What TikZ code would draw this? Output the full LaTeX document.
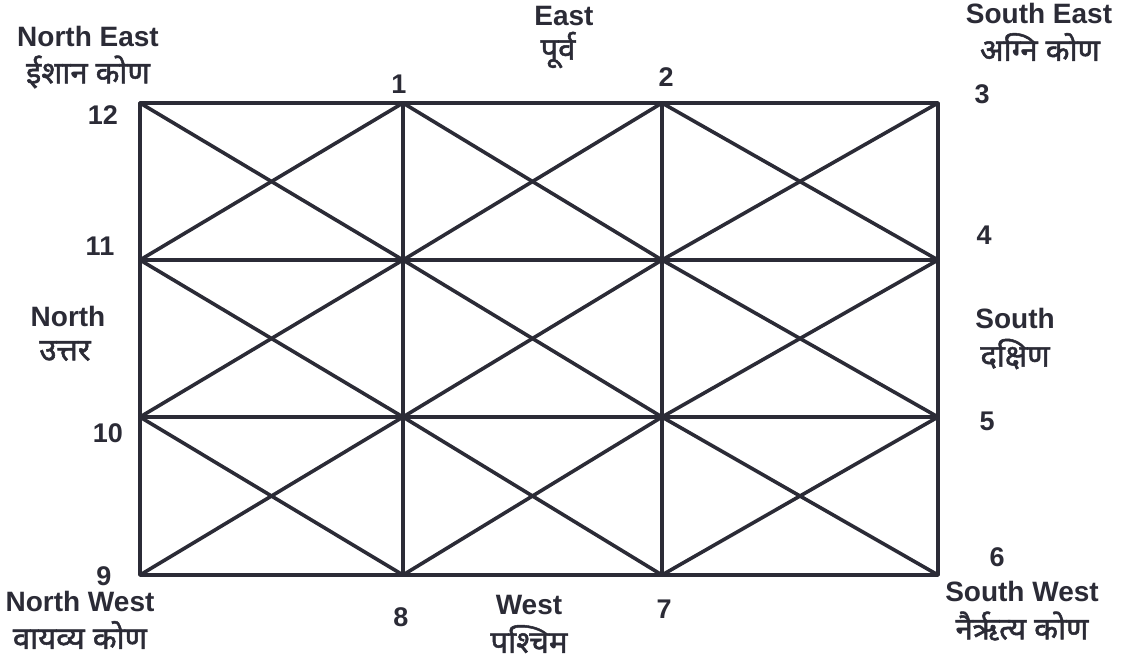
\documentclass[tikz,border=0pt]{standalone}
\usepackage{fontspec}
\setmainfont{Liberation Sans}
\newfontfamily\hindi[Script=Devanagari,FakeBold=1.6]{Noto Sans}
\usepackage{xcolor}
\definecolor{inkgray}{HTML}{2B2B36}

\begin{document}
\begin{tikzpicture}[x=1pt,y=-1pt,
    grid line/.style={inkgray,line width=3.6pt,line cap=round,line join=round},
    numlabel/.style={inkgray,font=\fontsize{27}{29}\selectfont\bfseries},
    enlabel/.style={inkgray,font=\fontsize{28}{30}\selectfont\bfseries},
    hilabel/.style={inkgray,font=\fontsize{31}{33}\selectfont\hindi}]
        \useasboundingbox (0,0) rectangle (1123,663);
        % grid points
        \coordinate (a0) at (140,103);
        \coordinate (a1) at (403,103);
        \coordinate (a2) at (662,103);
        \coordinate (a3) at (938,103);
        \coordinate (b0) at (140,260);
        \coordinate (b1) at (403,260);
        \coordinate (b2) at (662,260);
        \coordinate (b3) at (938,260);
        \coordinate (c0) at (140,417);
        \coordinate (c1) at (403,417);
        \coordinate (c2) at (662,417);
        \coordinate (c3) at (938,417);
        \coordinate (d0) at (140,575);
        \coordinate (d1) at (403,575);
        \coordinate (d2) at (662,575);
        \coordinate (d3) at (938,575);
        % outline and inner lines
        \draw[grid line] (a0) -- (a3) -- (d3) -- (d0) -- cycle;
        \draw[grid line] (b0) -- (b3);
        \draw[grid line] (c0) -- (c3);
        \draw[grid line] (a1) -- (d1);
        \draw[grid line] (a2) -- (d2);
        % diagonals
        \draw[grid line] (a0) -- (b1) -- (a2) -- (b3);
        \draw[grid line] (b0) -- (a1) -- (b2) -- (a3);
        \draw[grid line] (b0) -- (c1) -- (b2) -- (c3);
        \draw[grid line] (c0) -- (b1) -- (c2) -- (b3);
        \draw[grid line] (c0) -- (d1) -- (c2) -- (d3);
        \draw[grid line] (d0) -- (c1) -- (d2) -- (c3);
        % numbers
        \node[numlabel] (n1) at (399,84) {1};
        \node[numlabel] (n2) at (666,77) {2};
        \node[numlabel] (n3) at (982,94) {3};
        \node[numlabel] (n4) at (984,235) {4};
        \node[numlabel] (n5) at (987,421) {5};
        \node[numlabel] (n6) at (997,557) {6};
        \node[numlabel] (n7) at (664,609) {7};
        \node[numlabel] (n8) at (401,617) {8};
        \node[numlabel] (n9) at (104,576) {9};
        \node[numlabel] (n10) at (108,433) {10};
        \node[numlabel] (n11) at (100,246) {11};
        \node[numlabel] (n12) at (103,115) {12};
        % directions
        \node[enlabel] (ne) at (88,36) {North East};
        \node[hilabel] (nehi) at (88,72) {ईशान कोण};
        \node[enlabel] (east) at (564,16) {East};
        \node[hilabel] (easthi) at (558,50) {पूर्व};
        \node[enlabel] (se) at (1039,13) {South East};
        \node[hilabel] (sehi) at (1040,47) {अग्नि कोण};
        \node[enlabel] (north) at (68,316) {North};
        \node[hilabel] (northhi) at (65,351) {उत्तर};
        \node[enlabel] (south) at (1015,318) {South};
        \node[hilabel] (southhi) at (1015,354) {दक्षिण};
        \node[enlabel] (nw) at (80,601) {North West};
        \node[hilabel] (nwhi) at (80,635) {वायव्य कोण};
        \node[enlabel] (west) at (529,605) {West};
        \node[hilabel] (westhi) at (529,639) {पश्चिम};
        \node[enlabel] (sw) at (1022,591) {South West};
        \node[hilabel] (swhi) at (1022,626) {नैर्ऋत्य कोण};
    \end{tikzpicture}
\end{document}
